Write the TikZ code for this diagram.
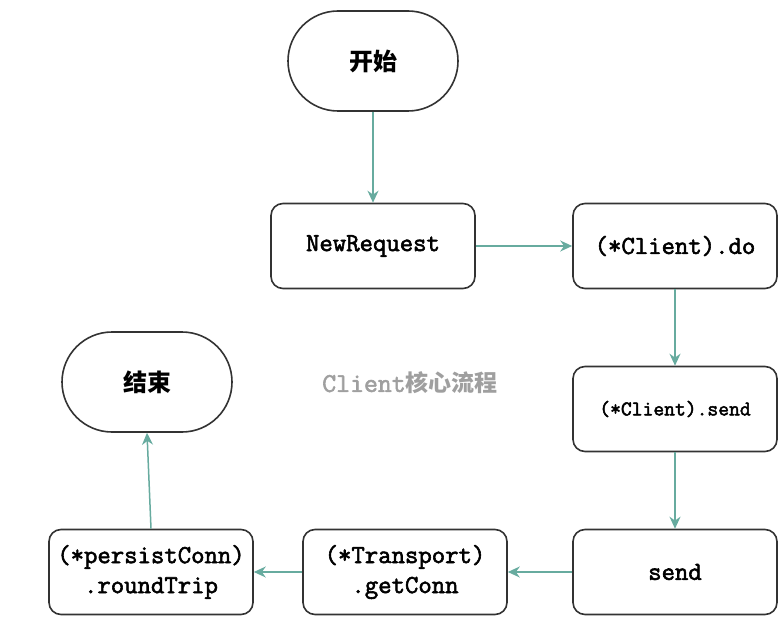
\documentclass[tikz,border=0pt]{standalone}
\usepackage{fontspec}
\newfontfamily\cjk{Noto Sans CJK SC}
\newfontfamily\codefont{Latin Modern Mono}[FakeBold=2.2]
\usetikzlibrary{arrows.meta}
\definecolor{flowgreen}{HTML}{67AB9F}
\definecolor{boxline}{HTML}{333333}
\tikzset{
  stepbox/.style={draw=boxline, line width=1.6pt, rounded corners=12pt, fill=white,
    minimum width=204pt, minimum height=85pt, align=center,
    font=\codefont\fontsize{26}{30}\selectfont},
  terminal/.style={draw=boxline, line width=1.6pt, rounded corners=50pt, fill=white,
    minimum width=170pt, minimum height=100pt,
    font=\cjk\bfseries\fontsize{24}{28}\selectfont},
  flow/.style={draw=flowgreen, line width=1.5pt, -{Stealth[length=12pt,width=11pt]}}
}
\begin{document}
\begin{tikzpicture}[x=1pt, y=-1pt]
  \useasboundingbox (0,0) rectangle (783,620);
  % start and end
  \node[terminal] (start) at (373,61) {开始};
  \node[terminal] (finish) at (147,382) {结束};
  % call chain
  \node[stepbox] (newreq) at (373,246) {NewRequest};
  \node[stepbox] (clientdo) at (675,246) {(*Client).do};
  \node[stepbox, font=\codefont\fontsize{21}{24}\selectfont] (clientsend) at (675,409) {(*Client).send};
  \node[stepbox] (send) at (675,572) {send};
  \node[stepbox] (getconn) at (405,572) {(*Transport)\\.getConn};
  \node[stepbox] (roundtrip) at (151,572) {(*persistConn)\\.roundTrip};
  % title
  \node[text=gray!75] (title) at (410,383)
    {{\codefont\fontsize{27}{26}\selectfont Client}{\cjk\bfseries\fontsize{23}{26}\selectfont 核心流程}};
  % connectors
  \draw[flow] (start) -- (newreq);
  \draw[flow] (newreq) -- (clientdo);
  \draw[flow] (clientdo) -- (clientsend);
  \draw[flow] (clientsend) -- (send);
  \draw[flow] (send) -- (getconn);
  \draw[flow] (getconn) -- (roundtrip);
  \draw[flow] (roundtrip.north) -- (finish.south);
\end{tikzpicture}
\end{document}
